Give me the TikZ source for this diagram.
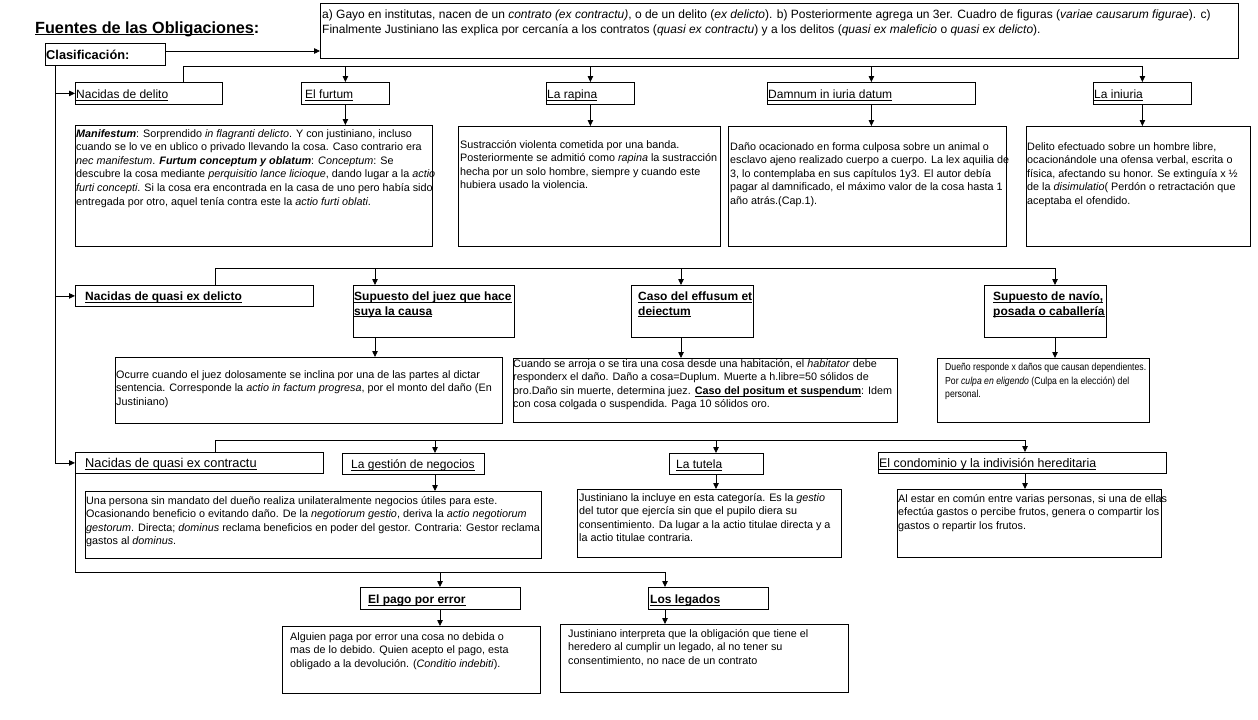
\documentclass[tikz,border=0pt]{standalone}
\usepackage{fontspec}
\setmainfont{Liberation Sans}
\newfontfamily\narrowf[FakeStretch=0.85]{Liberation Sans}
\usetikzlibrary{arrows.meta}
\newcommand\ulin[1]{\underline{\smash{#1}}}
\begin{document}
\begin{tikzpicture}[x=1pt,y=-1pt,
  bx/.style={draw, line width=0.8pt, anchor=north west, inner sep=0pt},
  bt/.style={anchor=north west, inner sep=0pt, align=left, font=\fontsize{10.8}{13.6}\selectfont},
  hl/.style={anchor=base west, inner sep=0pt, font=\fontsize{12}{14}\selectfont},
  hb/.style={anchor=base west, inner sep=0pt, align=left, font=\fontsize{12}{14.5}\selectfont\bfseries},
  arr/.style={line width=0.8pt, -{Triangle[length=6pt,width=5.5pt]}},
  ln/.style={line width=0.8pt}]
\useasboundingbox[fill=white] (0,0) rectangle (1258,720);

% title and top
\node[anchor=base west, inner sep=0pt, font=\bfseries\fontsize{16.2}{18}\selectfont] (title) at (35,33) {\ulin{Fuentes de las Obligaciones}:};
\node[bx, minimum width=120pt, minimum height=22pt] (clas) at (45,43) {};
\node[hl, font=\fontsize{12.8}{14}\selectfont\bfseries] (clasT) at ([xshift=1pt,yshift=6.5pt]clas.south west) {Clasificación:};
\node[bx, minimum width=918pt, minimum height=55pt] (top) at (320,3) {};
\node[bt, font=\fontsize{12}{15}\selectfont] (topT) at ([xshift=2pt,yshift=-7pt]top.north west) {a) Gayo en institutas, nacen de un \textit{contrato (ex contractu)}, o de un delito (\textit{ex delicto}). b) Posteriormente agrega un 3er. Cuadro de figuras (\textit{variae causarum figurae}). c)\\
Finalmente Justiniano las explica por cercanía a los contratos (\textit{quasi ex contractu}) y  a los delitos (\textit{quasi ex maleficio} o \textit{quasi ex delicto}).};

% row 1 headers
\node[bx, minimum width=147pt, minimum height=22pt] (deli) at (75,82) {};
\node[hl] (deliT) at ([xshift=1pt,yshift=6.5pt]deli.south west) {\ulin{Nacidas de delito}};
\node[bx, minimum width=88pt, minimum height=22pt] (furt) at (301,82) {};
\node[hl] (furtT) at ([xshift=4pt,yshift=6.5pt]furt.south west) {\ulin{El furtum}};
\node[bx, minimum width=88pt, minimum height=22pt] (rap) at (546,82) {};
\node[hl] (rapT) at ([xshift=1pt,yshift=6.5pt]rap.south west) {\ulin{La rapina}};
\node[bx, minimum width=208pt, minimum height=22pt] (dam) at (767,82) {};
\node[hl] (damT) at ([xshift=1pt,yshift=6.5pt]dam.south west) {\ulin{Damnum in iuria datum}};
\node[bx, minimum width=98pt, minimum height=22pt] (inj) at (1093,82) {};
\node[hl] (injT) at ([xshift=1pt,yshift=6.5pt]inj.south west) {\ulin{La iniuria}};

% row 1 bodies
\node[bx, minimum width=357pt, minimum height=121pt] (manB) at (75,125) {};
\node[bt] (manT) at ([xshift=1pt,yshift=-4pt]manB.north west) {\textbf{\textit{Manifestum}}: Sorprendido \textit{in flagranti delicto}. Y con justiniano, incluso\\
cuando se lo ve en ublico o privado llevando la cosa. Caso contrario era\\
\textit{nec manifestum}. \textbf{\textit{Furtum conceptum y oblatum}}: \textit{Conceptum}: Se\\
descubre la cosa mediante \textit{perquisitio lance licioque}, dando lugar a la \textit{actio}\\
\textit{furti concepti}. Si la cosa era encontrada en la casa de uno pero había sido\\
entregada por otro, aquel tenía contra este la \textit{actio furti oblati}.};
\node[bx, minimum width=262pt, minimum height=120pt] (susB) at (458,126) {};
\node[bt] (susT) at ([xshift=2pt,yshift=-14pt]susB.north west) {Sustracción violenta cometida por una banda.\\
Posteriormente se admitió como \textit{rapina} la sustracción\\
hecha por un solo hombre, siempre y cuando este\\
hubiera usado la violencia.};
\node[bx, minimum width=278pt, minimum height=120pt] (danB) at (728,126) {};
\node[bt] (danT) at ([xshift=2pt,yshift=-16pt]danB.north west) {Daño ocacionado en forma culposa sobre un animal o\\
esclavo ajeno realizado cuerpo a cuerpo. La lex aquilia de\\
3, lo contemplaba en sus capítulos 1y3. El autor debía\\
pagar al damnificado, el máximo valor de la cosa hasta 1\\
año atrás.(Cap.1).};
\node[bx, minimum width=224pt, minimum height=120pt] (injB) at (1026,126) {};
\node[bt] (injT2) at ([xshift=1pt,yshift=-16pt]injB.north west) {Delito efectuado sobre un hombre libre,\\
ocacionándole una ofensa verbal, escrita o\\
física, afectando su honor. Se extinguía x ½\\
de la \textit{disimulatio}( Perdón o retractación que\\
aceptaba el ofendido.};

% row 2
\node[bx, minimum width=238pt, minimum height=21pt] (qdel) at (75,285) {};
\node[hl, font=\fontsize{12}{14}\selectfont\bfseries] (qdelT) at ([xshift=10pt,yshift=6pt]qdel.south west) {\ulin{Nacidas de quasi ex delicto}};
\node[bx, minimum width=161pt, minimum height=52pt] (juez) at (353,285) {};
\node[hb] (juezT) at ([xshift=1pt,yshift=-30pt]juez.north west) {\ulin{Supuesto del juez que hace}\\ \ulin{suya la causa}};
\node[bx, minimum width=122pt, minimum height=52pt] (eff) at (631,285) {};
\node[hb] (effT) at ([xshift=7pt,yshift=-30pt]eff.north west) {\ulin{Caso del effusum et}\\ \ulin{deiectum}};
\node[bx, minimum width=122pt, minimum height=52pt] (nav) at (984,285) {};
\node[hb] (navT) at ([xshift=9pt,yshift=-30pt]nav.north west) {\ulin{Supuesto de navío,}\\ \ulin{posada o caballería}};

\node[bx, minimum width=387pt, minimum height=66pt] (juezB) at (115,357) {};
\node[bt] (juezBT) at ([xshift=1pt,yshift=-13pt]juezB.north west) {Ocurre cuando el juez dolosamente se inclina por una de las partes al dictar\\
sentencia. Corresponde la \textit{actio in factum progresa}, por el monto del daño (En\\
Justiniano)};
\node[bx, minimum width=384pt, minimum height=64pt] (effB) at (513,358) {};
\node[bt] (effBT) at ([xshift=0pt,yshift=-1pt]effB.north west) {Cuando se arroja  o se tira una cosa desde una habitación, el \textit{habitator} debe\\
responderx el daño. Daño a cosa=Duplum. Muerte a h.libre=50 sólidos de\\
oro.Daño sin muerte, determina juez. \textbf{\ulin{Caso del positum et suspendum}}: Idem\\
con cosa colgada o suspendida. Paga 10 sólidos oro.};
\node[bx, minimum width=212pt, minimum height=64pt] (navB) at (937,358) {};
\node[bt, font=\narrowf\fontsize{10.2}{13.6}\selectfont] (navBT) at ([xshift=8pt,yshift=-5pt]navB.north west) {Dueño responde x daños que causan dependientes.\\
Por \textit{culpa en eligendo}  (Culpa en la elección) del\\
personal.};

% row 3
\node[bx, minimum width=248pt, minimum height=21pt] (qcon) at (75,452) {};
\node[hl, font=\fontsize{12.8}{14}\selectfont] (qconT) at ([xshift=10pt,yshift=6pt]qcon.south west) {\ulin{Nacidas de quasi ex contractu}};
\node[bx, minimum width=142pt, minimum height=21pt] (gest) at (342,453) {};
\node[hl] (gestT) at ([xshift=9pt,yshift=6pt]gest.south west) {\ulin{La gestión de negocios}};
\node[bx, minimum width=94pt, minimum height=21pt] (tut) at (669,453) {};
\node[hl] (tutT) at ([xshift=7pt,yshift=6pt]tut.south west) {\ulin{La tutela}};
\node[bx, minimum width=288pt, minimum height=21pt] (cond) at (878,452) {};
\node[hl, font=\fontsize{12.4}{14}\selectfont] (condT) at ([xshift=1pt,yshift=6pt]cond.south west) {\ulin{El condominio y la indivisión  hereditaria}};

\node[bx, minimum width=456pt, minimum height=67pt] (gestB) at (85,491) {};
\node[bt] (gestBT) at ([xshift=1pt,yshift=-5pt]gestB.north west) {Una persona sin mandato del dueño realiza unilateralmente negocios útiles para este.\\
Ocasionando beneficio o evitando daño. De la \textit{negotiorum gestio}, deriva la \textit{actio negotiorum}\\
\textit{gestorum}. Directa; \textit{dominus} reclama beneficios en poder del gestor. Contraria: Gestor reclama\\
gastos al \textit{dominus}.};
\node[bx, minimum width=264pt, minimum height=68pt] (tutB) at (577,489) {};
\node[bt] (tutBT) at ([xshift=2pt,yshift=-4pt]tutB.north west) {Justiniano la incluye en esta categoría. Es la \textit{gestio}\\
del tutor que ejercía sin que el pupilo diera su\\
consentimiento. Da lugar a la actio titulae directa y a\\
la actio titulae contraria.};
\node[bx, minimum width=264pt, minimum height=68pt] (condB) at (897,489) {};
\node[bt] (condBT) at ([xshift=1pt,yshift=-5pt]condB.north west) {Al estar en común entre varias personas, si una de ellas\\
efectúa gastos o percibe frutos, genera o compartir los\\
gastos o repartir los frutos.};

% row 4
\node[bx, minimum width=160pt, minimum height=22pt] (pago) at (360,587) {};
\node[hl, font=\fontsize{12}{14}\selectfont\bfseries] (pagoT) at ([xshift=8pt,yshift=6.5pt]pago.south west) {\ulin{El pago por error}};
\node[bx, minimum width=120pt, minimum height=22pt] (leg) at (648,587) {};
\node[hl, font=\fontsize{12}{14}\selectfont\bfseries] (legT) at ([xshift=2pt,yshift=6.5pt]leg.south west) {\ulin{Los legados}};
\node[bx, minimum width=258pt, minimum height=67pt] (pagoB) at (282,626) {};
\node[bt] (pagoBT) at ([xshift=8pt,yshift=-6pt]pagoB.north west) {Alguien paga por error una cosa no debida o\\
mas de lo debido. Quien acepto el pago, esta\\
obligado a la devolución. (\textit{Conditio indebiti}).};
\node[bx, minimum width=288pt, minimum height=68pt] (legB) at (560,624) {};
\node[bt] (legBT) at ([xshift=8pt,yshift=-5pt]legB.north west) {Justiniano interpreta que la obligación que tiene el\\
heredero al cumplir un legado, al no tener su\\
consentimiento, no nace de un contrato};

% coordinates
\coordinate (yc) at (0,51);
\coordinate (xtr) at (55,0);
\coordinate (bus1) at (183,66);
\coordinate (bus2) at (215,268);
\coordinate (bus3) at (215,440);
\coordinate (bus4) at (75,572);
\coordinate (xj) at (375,0);
\coordinate (xe) at (681,0);
\coordinate (xn) at (1055,0);
\coordinate (xg) at (435,0);
\coordinate (xt) at (716,0);
\coordinate (xc) at (1025,0);
\coordinate (xp) at (440,0);
\coordinate (xl) at (665,0);

% connectors
\draw[arr] (clas.east |- yc) -- (top.west |- yc);
\draw[arr] (xtr |- clas.south) |- (qcon.west);
\draw[arr] (xtr |- deli.west) -- (deli.west);
\draw[arr] (xtr |- qdel.west) -- (qdel.west);

\draw[arr] (bus1 |- deli.north) -- (bus1) -| (inj.north);
\draw[arr] (furt.north |- bus1) -- (furt.north);
\draw[arr] (rap.north |- bus1) -- (rap.north);
\draw[arr] (dam.north |- bus1) -- (dam.north);
\draw[arr] (furt.south) -- (furt.south |- manB.north);
\draw[arr] (rap.south) -- (rap.south |- susB.north);
\draw[arr] (dam.south) -- (dam.south |- danB.north);
\draw[arr] (inj.south) -- (inj.south |- injB.north);

\draw[arr] (bus2 |- qdel.north) -- (bus2) -| (xn |- nav.north);
\draw[arr] (xj |- bus2) -- (xj |- juez.north);
\draw[arr] (xe |- bus2) -- (xe |- eff.north);
\draw[arr] (xj |- juez.south) -- (xj |- juezB.north);
\draw[arr] (xe |- eff.south) -- (xe |- effB.north);
\draw[arr] (xn |- nav.south) -- (xn |- navB.north);

\draw[arr] (bus3 |- qcon.north) -- (bus3) -| (xc |- cond.north);
\draw[arr] (xg |- bus3) -- (xg |- gest.north);
\draw[arr] (xt |- bus3) -- (xt |- tut.north);
\draw[arr] (xg |- gest.south) -- (xg |- gestB.north);
\draw[arr] (xt |- tut.south) -- (xt |- tutB.north);
\draw[arr] (xc |- cond.south) -- (xc |- condB.north);

\draw[arr] (qcon.south west) -- (bus4) -| (xl |- leg.north);
\draw[arr] (xp |- bus4) -- (xp |- pago.north);
\draw[arr] (xp |- pago.south) -- (xp |- pagoB.north);
\draw[arr] (xl |- leg.south) -- (xl |- legB.north);
\end{tikzpicture}
\end{document}
